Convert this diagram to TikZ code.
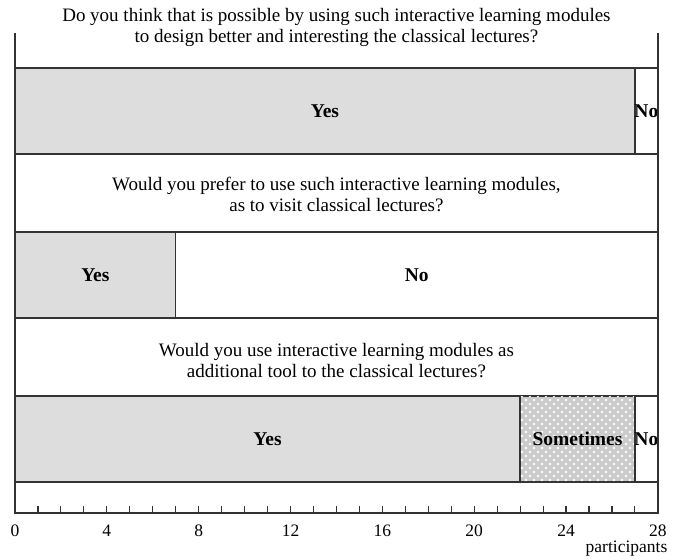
\documentclass[tikz,border=0pt]{standalone}
\usepackage{fontspec}
\setmainfont{Liberation Serif}
\usetikzlibrary{patterns}
\newcommand{\linew}{1.3pt}
\newcommand{\txtsize}{\fontsize{17.5}{21}\selectfont}
\newcommand{\qsize}{\fontsize{19}{21}\selectfont}
\definecolor{bargray}{HTML}{DDDDDD}
\definecolor{dotgray}{HTML}{CBCBCB}
\definecolor{linegray}{HTML}{333333}
\pgfdeclarepatternformonly{softdots}{\pgfpoint{-1pt}{-1pt}}{\pgfpoint{9pt}{9pt}}{\pgfpoint{8pt}{8pt}}{
    \pgfpathcircle{\pgfpoint{2pt}{2pt}}{1.3pt}
    \pgfpathcircle{\pgfpoint{6pt}{6pt}}{1.3pt}
    \pgfusepath{fill}}

\begin{document}
\begin{tikzpicture}[x=22.96pt, y=1pt, font=\txtsize,
        bar/.style = {draw=linegray, line width=\linew, fill=bargray},
        blank/.style = {draw=linegray, line width=\linew, fill=white},
        dotbar/.style = {draw=linegray, line width=\linew, fill=dotgray,
            postaction={pattern=softdots, pattern color=white}},
        answer/.style = {font=\fontsize{19.5}{21}\selectfont\bfseries, inner sep=0pt},
        question/.style = {font=\qsize, align=center, inner sep=0pt}]
                %\draw[help lines] (0,0) grid (28,480);
                \useasboundingbox (-0.6533,-45) rectangle (28.9634,513);
                % first question
                \draw[bar] (0,359) rectangle (27,445);
                \draw[blank] (27,359) rectangle (28,445);
                \node[question] (q1) at (14,485.5) {Do you think that is possible by using such interactive learning modules\\to design better and interesting the classical lectures?};
                \node[answer] (yes1) at (13.5,402) {Yes};
                \node[answer] (no1) at (27.5,402) {No};
                % second question
                \draw[bar] (0,195) rectangle (7,281);
                \draw[blank] (7,195) rectangle (28,281);
                \node[question] (q2) at (14,319) {Would you prefer to use such interactive learning modules,\\as to visit classical lectures?};
                \node[answer] (yes2) at (3.5,238) {Yes};
                \node[answer] (no2) at (17.5,238) {No};
                % third question
                \draw[bar] (0,31) rectangle (22,117);
                \draw[dotbar] (22,31) rectangle (27,117);
                \draw[blank] (27,31) rectangle (28,117);
                \node[question] (q3) at (14,152.5) {Would you use interactive learning modules as\\additional tool to the classical lectures?};
                \node[answer] (yes3) at (11,74) {Yes};
                \node[answer] (some3) at (24.5,74) {Sometimes};
                \node[answer] (no3) at (27.5,74) {No};
                % axes
                \draw[linegray, line width=\linew] (0,480) -- (0,0) -- (28,0) -- (28,480);
                \foreach \i in {1,...,27}
                    \draw[linegray, line width=1.1pt] (\i,0) -- (\i,7);
                \foreach \i in {0,4,...,28}
                    \node (t\i) at (\i,-18) {\i};
                \node[anchor=east, inner sep=0pt] (unit) at (28.42,-36) {participants};
\end{tikzpicture}
\end{document}
